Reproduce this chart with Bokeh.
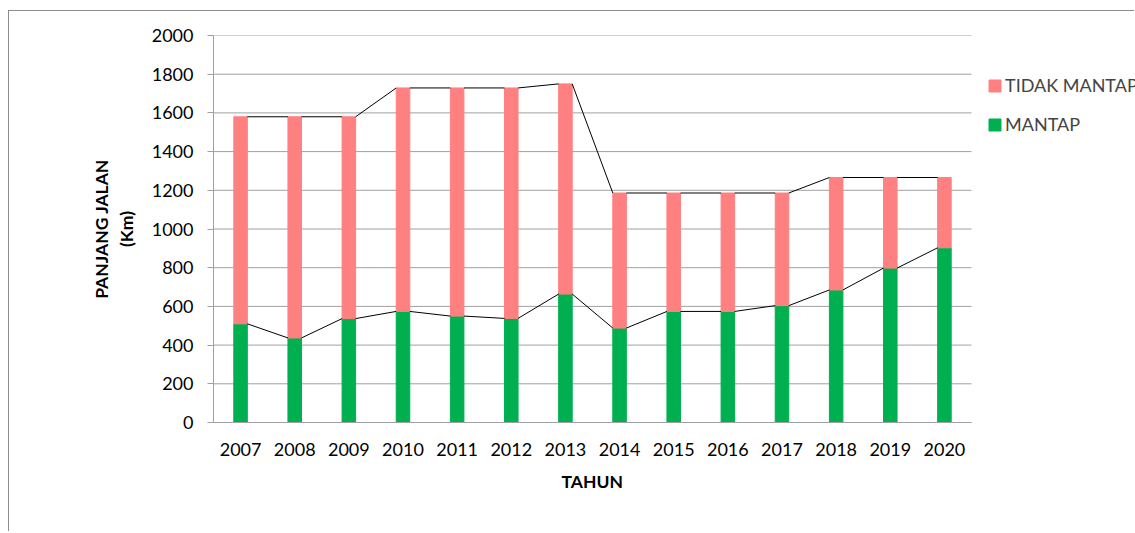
from bokeh.plotting import figure
from bokeh.models import ColumnDataSource, FixedTicker, Legend, LegendItem, Range1d, Title
from bokeh.embed import file_html
from bokeh.resources import INLINE

years = ["2007", "2008", "2009", "2010", "2011", "2012", "2013",
         "2014", "2015", "2016", "2017", "2018", "2019", "2020"]
mantap = [510, 437, 537, 574, 550, 538, 664, 488, 574, 574, 604, 685, 798, 903]
tidak_mantap = [1070, 1143, 1043, 1155, 1179, 1191, 1086, 698, 612, 612, 582, 581, 468, 363]
y_ticks = [0, 200, 400, 600, 800, 1000, 1200, 1400, 1600, 1800, 2000]

FONT = "Lato"
GRID = "#a0a0a0"
n = len(years)
xs = [i + 0.5 for i in range(n)]
totals = [m + t for m, t in zip(mantap, tidak_mantap)]
bar_w = 0.25

W, H = 1126, 521
LEFT, TOP, BOTTOM = 204, 24, 110
frame_w = W - LEFT
plot_w = 758  # pixel width of the 14 categories
x_end = n * frame_w / plot_w

src = ColumnDataSource(dict(x=xs, mantap=mantap, tidak=tidak_mantap))

p = figure(width=W, height=H, x_range=Range1d(0, x_end), y_range=Range1d(0, 2000),
           output_backend="svg", toolbar_location=None,
           min_border_left=LEFT, min_border_right=0, min_border_top=TOP, min_border_bottom=BOTTOM)
p.styles = {"border-top": "1px solid #8c8c8c", "border-left": "1px solid #8c8c8c",
            "margin-top": "10px", "margin-left": "8px"}
p.outline_line_color = None
p.background_fill_color = "white"
p.border_fill_color = "white"

# horizontal gridlines across the category area only
p.xgrid.visible = False
p.ygrid.visible = False
p.segment(x0=[0] * len(y_ticks), x1=[n] * len(y_ticks), y0=y_ticks, y1=y_ticks,
          line_color=GRID, line_width=1)

rs = p.vbar_stack(["mantap", "tidak"], x="x", width=bar_w, color=["#00B050", "#FF8080"], source=src)

# series lines (bar edge to next bar edge)
x0 = [xs[i] + bar_w / 2 for i in range(n - 1)]
x1 = [xs[i + 1] - bar_w / 2 for i in range(n - 1)]
p.segment(x0=x0, x1=x1, y0=mantap[:-1], y1=mantap[1:], line_color="black", line_width=1)
p.segment(x0=x0, x1=x1, y0=totals[:-1], y1=totals[1:], line_color="black", line_width=1)

# y axis
p.yaxis.ticker = FixedTicker(ticks=y_ticks)
p.yaxis.axis_line_color = GRID
p.yaxis.major_tick_line_color = GRID
p.yaxis.major_tick_out = 6
p.yaxis.major_tick_in = 0
p.yaxis.minor_tick_line_color = None
p.yaxis.major_label_standoff = 14
p.yaxis.major_label_text_font = FONT
p.yaxis.major_label_text_font_size = "18px"
p.yaxis.major_label_text_color = "black"
p.yaxis.axis_label = "PANJANG JALAN\n(Km)"
p.yaxis.axis_label_text_font = FONT
p.yaxis.axis_label_text_font_size = "17.5px"
p.yaxis.axis_label_text_font_style = "bold"
p.yaxis.axis_label_text_color = "black"
p.yaxis.axis_label_standoff = 12

# x axis
p.xaxis.ticker = FixedTicker(ticks=xs)
p.xaxis.bounds = (0, n)
p.xaxis.major_label_overrides = {x: y for x, y in zip(xs, years)}
p.xaxis.axis_line_color = GRID
p.xaxis.major_tick_line_color = None
p.xaxis.major_tick_out = 0
p.xaxis.minor_tick_line_color = None
p.xaxis.major_label_standoff = 20
p.xaxis.major_label_text_font = FONT
p.xaxis.major_label_text_font_size = "18px"
p.xaxis.major_label_text_color = "black"

# x axis title, centred under the category area
t = Title(text="TAHUN", align="left", offset=348, standoff=21, text_font=FONT,
          text_font_size="17.5px", text_font_style="bold", text_color="black")
p.add_layout(t, "below")

legend = Legend(items=[LegendItem(label="TIDAK MANTAP", renderers=[rs[1]]),
                       LegendItem(label="MANTAP", renderers=[rs[0]])],
                location=(774, 287), glyph_width=15, glyph_height=15,
                label_text_font=FONT, label_text_font_size="18px", label_standoff=3,
                spacing=17, padding=0, margin=0, border_line_color=None,
                background_fill_alpha=0)
p.add_layout(legend, "center")

open("out.html", "w").write(file_html(p, INLINE))
